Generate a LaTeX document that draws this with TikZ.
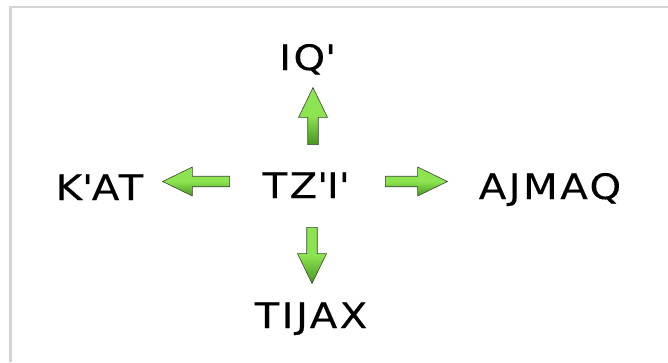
\documentclass[tikz,border=0pt]{standalone}
\usepackage{fontspec}
\setmainfont{DejaVu Sans}[LetterSpace=7, FakeStretch=1.15, FakeBold=0.3]
\usetikzlibrary{shapes.arrows}
\definecolor{arrowlight}{RGB}{140,228,80}
\definecolor{arrowdark}{RGB}{70,150,30}
\definecolor{arrowline}{RGB}{60,70,50}
\definecolor{framegray}{RGB}{212,212,212}
\newcommand{\apos}{\textquotesingle}
\tikzset{
  word/.style={anchor=base, inner sep=0pt, font=\fontsize{35}{40}\selectfont, text=black},
  blockarrow/.style={single arrow, draw=arrowline, line width=0.6pt,
    inner sep=4.8pt, minimum width=29pt, single arrow head extend=9pt,
    single arrow tip angle=52, shade, top color=arrowlight, bottom color=arrowdark,
    middle color=arrowlight},
}
\begin{document}
\begin{tikzpicture}[x=1pt,y=-1pt]
\useasboundingbox (0,0) rectangle (668,362);
\draw[framegray, line width=2.5pt] (10.5,362) -- (10.5,7) -- (668,7);
\node[word] (iq) at (307,70) {IQ\apos};
\node[word] (tzi) at (305.5,198) {TZ\apos I\apos};
\node[word] (kat) at (99.5,200) {K\apos AT};
\node[word] (ajmaq) at (550,199) {AJMAQ};
\node[word] (tijax) at (311,328) {TIJAX};
\node[blockarrow, shape border rotate=90, minimum height=57pt] (up) at (313,121.5) {};
\node[blockarrow, shape border rotate=180, minimum height=67pt] (left) at (201.5,181.5) {};
\node[blockarrow, shape border rotate=0, minimum height=62pt] (right) at (411,181.5) {};
\node[blockarrow, shape border rotate=270, minimum height=56pt] (down) at (312,250) {};
\end{tikzpicture}
\end{document}
